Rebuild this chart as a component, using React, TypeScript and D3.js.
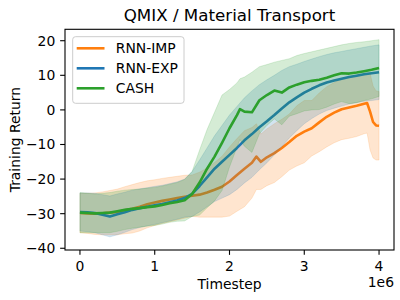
import React from "react";
import * as d3 from "d3";

// Timesteps in millions (axis shows "1e6" offset)
const impSteps = [0, 0.1, 0.2, 0.3, 0.4, 0.5, 0.6, 0.7, 0.8, 0.9, 1.0, 1.1, 1.2, 1.3, 1.4, 1.5, 1.6, 1.7, 1.8, 1.9, 2.0, 2.1, 2.2, 2.3, 2.36, 2.42, 2.5, 2.6, 2.7, 2.8, 2.9, 3.0, 3.1, 3.2, 3.3, 3.4, 3.5, 3.6, 3.7, 3.8, 3.84, 3.88, 3.92, 3.96, 4.0];
const impMean = [-29.8, -29.9, -30.0, -29.9, -29.7, -29.5, -29.0, -28.6, -28.0, -27.3, -26.8, -26.3, -25.9, -25.5, -25.1, -24.8, -24.5, -23.9, -23.1, -22.2, -20.7, -18.8, -17.0, -15.3, -13.5, -15.0, -13.7, -12.5, -11.0, -9.3, -7.5, -6.3, -5.3, -3.6, -2.0, -0.8, 0.2, 0.7, 1.2, 1.8, 2.0, -0.5, -3.5, -4.5, -4.6];
const impStd = [5.7, 5.8, 6.0, 6.2, 6.4, 6.6, 6.8, 7.0, 7.0, 6.8, 6.6, 6.5, 6.4, 6.3, 6.2, 6.0, 6.5, 7.1, 7.9, 8.8, 10.0, 10.5, 11.0, 10.2, 9.5, 8.0, 8.2, 8.5, 8.3, 8.1, 8.7, 9.0, 8.0, 8.5, 8.7, 8.7, 8.8, 8.9, 8.9, 8.7, 8.7, 11.1, 10.4, 10.0, 9.9];

const expSteps = [0, 0.1, 0.2, 0.3, 0.4, 0.5, 0.6, 0.7, 0.8, 0.9, 1.0, 1.1, 1.2, 1.3, 1.4, 1.5, 1.6, 1.7, 1.8, 1.9, 2.0, 2.1, 2.2, 2.3, 2.4, 2.5, 2.6, 2.7, 2.8, 2.9, 3.0, 3.1, 3.2, 3.3, 3.4, 3.5, 3.6, 3.7, 3.8, 3.9, 4.0];
const expMean = [-29.5, -29.6, -29.8, -30.3, -30.8, -30.2, -29.6, -28.9, -28.4, -28.0, -27.6, -27.2, -26.7, -26.2, -25.5, -24.3, -22.0, -19.5, -17.0, -15.0, -13.0, -11.0, -8.8, -7.0, -5.0, -3.3, -1.5, 0.4, 2.2, 3.6, 5.0, 6.1, 7.1, 7.9, 8.5, 9.0, 9.5, 9.9, 10.3, 10.6, 10.9];
const expStd = [5.5, 5.6, 5.7, 5.8, 5.9, 5.9, 5.8, 5.7, 5.6, 5.5, 5.5, 5.4, 5.4, 5.4, 5.5, 6.5, 7.5, 8.5, 9.5, 10.5, 11.5, 12.0, 12.3, 12.5, 12.3, 12.0, 11.5, 11.0, 10.3, 9.6, 9.0, 8.6, 8.3, 8.1, 8.0, 7.9, 7.8, 7.8, 7.8, 7.9, 7.9];

const cashSteps = [0, 0.1, 0.2, 0.3, 0.4, 0.5, 0.6, 0.7, 0.8, 0.9, 1.0, 1.1, 1.2, 1.3, 1.4, 1.5, 1.6, 1.7, 1.8, 1.9, 2.0, 2.1, 2.14, 2.2, 2.3, 2.4, 2.5, 2.6, 2.7, 2.8, 2.9, 3.0, 3.1, 3.2, 3.3, 3.4, 3.5, 3.6, 3.7, 3.8, 3.9, 4.0];
const cashMean = [-29.7, -29.8, -29.9, -29.8, -29.7, -29.3, -28.9, -28.6, -28.4, -28.1, -27.9, -27.5, -27.0, -26.6, -26.1, -24.3, -21.0, -17.0, -13.5, -9.5, -5.3, -1.5, 0.2, -0.5, -0.7, 2.8, 4.3, 5.6, 5.0, 6.5, 7.3, 8.0, 8.4, 8.7, 9.3, 10.0, 10.6, 10.5, 10.8, 11.2, 11.6, 12.1];
const cashStd = [5.8, 5.7, 5.6, 5.7, 5.8, 5.8, 5.7, 5.6, 5.5, 5.5, 5.5, 5.5, 5.5, 5.6, 6.0, 6.5, 9.4, 11.3, 12.8, 13.8, 11.2, 9.3, 8.8, 10.0, 11.6, 9.7, 8.8, 8.2, 9.3, 8.3, 8.4, 8.3, 8.4, 8.6, 8.5, 8.3, 8.2, 8.7, 8.7, 8.5, 8.4, 8.2];

const seriesNames = ["RNN-IMP", "RNN-EXP", "CASH"];
const seriesColors = ["#ff7f0e", "#1f77b4", "#2ca02c"];

const xTicks = [0, 1, 2, 3, 4];
const yTicks = [-40, -30, -20, -10, 0, 10, 20];

const FONT = "DejaVu Sans, Liberation Sans, sans-serif";

export default function App() {
  const left = 65, right = 394, top = 29.3, bottom = 250;
  const x = d3.scaleLinear().domain([-0.2, 4.2]).range([left, right]);
  const y = d3.scaleLinear().domain([-40.5, 23.3]).range([bottom, top]);

  const series = [
    { steps: impSteps, mean: impMean, std: impStd },
    { steps: expSteps, mean: expMean, std: expStd },
    { steps: cashSteps, mean: cashMean, std: cashStd },
  ].map((s, i) => {
    const pts = s.steps.map((t, j) => ({ t, m: s.mean[j], s: s.std[j] }));
    return { ...s, pts, name: seriesNames[i], color: seriesColors[i] };
  });

  const line = d3.line<any>().x((d) => x(d.t)).y((d) => y(d.m));
  const area = d3
    .area<any>()
    .x((d) => x(d.t))
    .y0((d) => y(d.m - d.s))
    .y1((d) => y(d.m + d.s));

  const fmt = (v: number) => (v < 0 ? "\u2212" + Math.abs(v) : String(v));
  const tickLen = 4.86;
  const fs = 13.9;

  return (
    <svg
      width={400}
      height={300}
      style={{ position: "absolute", left: 0, top: 0, background: "#fff" }}
      fontFamily={FONT}
    >
      <rect x={0} y={0} width={400} height={300} fill="#fff" />
      <defs>
        <clipPath id="plotclip">
          <rect x={left} y={top} width={right - left} height={bottom - top} />
        </clipPath>
      </defs>
      <g clipPath="url(#plotclip)">
        {series.map((s) => (
          <g key={s.name}>
            <path d={line(s.pts) || ""} fill="none" stroke={s.color} strokeWidth={2.6} strokeLinejoin="round" />
            <path d={area(s.pts) || ""} fill={s.color} fillOpacity={0.2} stroke={s.color} strokeOpacity={0.2} strokeWidth={0.8} />
          </g>
        ))}
      </g>

      {/* spines */}
      <rect x={left} y={top} width={right - left} height={bottom - top} fill="none" stroke="#000" strokeWidth={1.1} />

      {/* x ticks */}
      {xTicks.map((t) => (
        <g key={"x" + t}>
          <line x1={x(t)} x2={x(t)} y1={bottom} y2={bottom + tickLen} stroke="#000" strokeWidth={1.1} />
          <text x={x(t)} y={270.5} fontSize={fs} textAnchor="middle" fill="#000">
            {fmt(t)}
          </text>
        </g>
      ))}
      {/* y ticks */}
      {yTicks.map((t) => (
        <g key={"y" + t}>
          <line x1={left - tickLen} x2={left} y1={y(t)} y2={y(t)} stroke="#000" strokeWidth={1.1} />
          <text x={left - tickLen - 4.86} y={y(t) + 5} fontSize={fs} textAnchor="end" fill="#000">
            {fmt(t)}
          </text>
        </g>
      ))}

      <text x={(left + right) / 2} y={289} fontSize={fs} textAnchor="middle" fill="#000">
        Timestep
      </text>
      <text x={right} y={286.5} fontSize={fs} textAnchor="end" fill="#000">
        1e6
      </text>
      <text
        transform={`translate(19.5, ${(top + bottom) / 2}) rotate(-90)`}
        fontSize={fs}
        textAnchor="middle"
        fill="#000"
      >
        Training Return
      </text>
      <text x={(left + right) / 2} y={21} fontSize={16.7} textAnchor="middle" fill="#000">
        QMIX / Material Transport
      </text>

      {/* legend */}
      <g>
        <rect x={72.7} y={36.7} width={111.3} height={66.6} rx={2.8} fill="#fff" fillOpacity={0.8} stroke="#cccccc" strokeWidth={1} />
        {series.map((s, i) => (
          <g key={"lg" + s.name}>
            <line x1={76.7} x2={104.5} y1={48.3 + i * 20} y2={48.3 + i * 20} stroke={s.color} strokeWidth={2.6} />
            <text x={115.8} y={48.3 + i * 20 + 5} fontSize={fs} fill="#000">
              {s.name}
            </text>
          </g>
        ))}
      </g>
    </svg>
  );
}
